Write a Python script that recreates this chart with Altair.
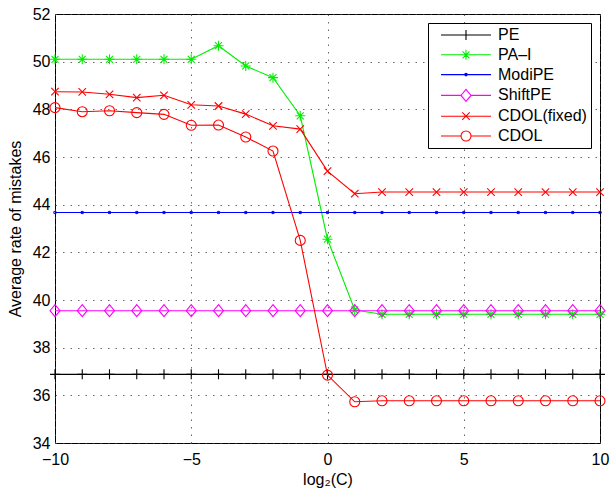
import altair as alt
import pandas as pd

x_vals = [-10, -9, -8, -7, -6, -5, -4, -3, -2, -1, 0, 1, 2, 3, 4, 5, 6, 7, 8, 9, 10]

series_names = ["PE", "PA–I", "ModiPE", "ShiftPE", "CDOL(fixed)", "CDOL"]

pe = [36.88, 36.88, 36.88, 36.88, 36.88, 36.88, 36.88, 36.88, 36.88, 36.88, 36.88,
      36.88, 36.88, 36.88, 36.88, 36.88, 36.88, 36.88, 36.88, 36.88, 36.88]
pa_i = [50.10, 50.10, 50.10, 50.10, 50.10, 50.10, 50.67, 49.82, 49.33, 47.73, 42.55,
        39.58, 39.40, 39.40, 39.40, 39.40, 39.40, 39.40, 39.40, 39.40, 39.40]
modipe = [43.67, 43.67, 43.67, 43.67, 43.67, 43.67, 43.67, 43.67, 43.67, 43.67, 43.67,
          43.67, 43.67, 43.67, 43.67, 43.67, 43.67, 43.67, 43.67, 43.67, 43.67]
shiftpe = [39.55, 39.55, 39.55, 39.55, 39.55, 39.55, 39.55, 39.55, 39.55, 39.55, 39.55,
           39.55, 39.55, 39.55, 39.55, 39.55, 39.55, 39.55, 39.55, 39.55, 39.55]
cdol_fixed = [48.74, 48.73, 48.63, 48.49, 48.59, 48.19, 48.14, 47.80, 47.31, 47.17, 45.41,
              44.46, 44.53, 44.53, 44.53, 44.53, 44.53, 44.53, 44.53, 44.53, 44.53]
cdol = [48.07, 47.90, 47.94, 47.86, 47.79, 47.33, 47.34, 46.84, 46.25, 42.50, 36.85,
        35.73, 35.77, 35.77, 35.77, 35.77, 35.77, 35.77, 35.77, 35.77, 35.77]

series_values = [pe, pa_i, modipe, shiftpe, cdol_fixed, cdol]
series_colors = ["#000000", "#00ee00", "#0000ff", "#ff00ff", "#ff0000", "#ff0000"]

# marker styles (plot)
marker_paths = [
    "M-1,0L1,0M0,-1L0,1",
    "M-1,0L1,0M0,-1L0,1M-0.7,-0.7L0.7,0.7M-0.7,0.7L0.7,-0.7",
    "circle",
    "M0,-1.2L1,0L0,1.2L-1,0Z",
    "M-0.75,-0.75L0.75,0.75M-0.75,0.75L0.75,-0.75",
    "circle",
]
marker_sizes = [100, 100, 6, 100, 100, 100]

# legend symbols: line segment plus marker (unit = 5px)
legend_paths = [
    "M-5,0L5,0M-1,0L1,0M0,-1L0,1",
    "M-5,0L5,0M-1,0L1,0M0,-1L0,1M-0.7,-0.7L0.7,0.7M-0.7,0.7L0.7,-0.7",
    "M-5,0L5,0M0.25,0A0.25,0.25 0 1,1 -0.25,0A0.25,0.25 0 1,1 0.25,0",
    "M-5,0L-1,0M1,0L5,0M0,-1.2L1,0L0,1.2L-1,0Z",
    "M-5,0L5,0M-0.75,-0.75L0.75,0.75M-0.75,0.75L0.75,-0.75",
    "M-5,0L-1,0M1,0L5,0M1,0A1,1 0 1,1 -1,0A1,1 0 1,1 1,0",
]

rows = []
for name, vals in zip(series_names, series_values):
    for xv, yv in zip(x_vals, vals):
        rows.append({"x": xv, "y": yv, "series": name})
df = pd.DataFrame(rows)

FONT = "Liberation Sans"

color_scale = alt.Scale(domain=series_names, range=series_colors)

X = alt.X("x:Q", scale=alt.Scale(domain=[-10, 10], nice=False),
          axis=alt.Axis(values=[-10, -5, 0, 5, 10], title="log₂(C)",
                        labelPadding=8, titlePadding=4, labelFlush=False,
                        labelOverlap=False))
Y = alt.Y("y:Q", scale=alt.Scale(domain=[34, 52], nice=False, zero=False),
          axis=alt.Axis(values=[34, 36, 38, 40, 42, 44, 46, 48, 50, 52],
                        title="Average rate of mistakes", labelPadding=5,
                        titlePadding=9, labelFlush=False, labelOverlap=False))

layers = []
for name, col, mk, sz in zip(series_names, series_colors, marker_paths, marker_sizes):
    sub = alt.Chart(df).transform_filter(alt.datum.series == name)
    layers.append(sub.mark_line(strokeWidth=1.1, color=col).encode(x=X, y=Y))
    layers.append(sub.mark_point(filled=False, strokeWidth=1.1, opacity=1, color=col,
                                 shape=mk, size=sz).encode(x=X, y=Y))

legend_props = dict(
    title=None, orient="none", legendX=373, legendY=9,
    labelFont=FONT, labelFontSize=16, labelColor="black",
    symbolSize=100, symbolStrokeWidth=1.1, symbolOpacity=1,
    symbolOffset=26, labelOffset=24, padding=4, rowPadding=3.8,
    strokeColor="black", fillColor="white", cornerRadius=0,
)

legend_layer = alt.Chart(df).mark_point(filled=False, opacity=0, size=100,
                                        strokeWidth=1.1).encode(
    x=X, y=Y,
    color=alt.Color("series:N", scale=color_scale, legend=alt.Legend(**legend_props)),
    shape=alt.Shape("series:N", scale=alt.Scale(domain=series_names, range=legend_paths),
                    legend=alt.Legend(**legend_props)),
)

chart = alt.layer(*layers, legend_layer).properties(
    width=545, height=429,
    padding={"left": 55, "top": 14, "right": 10, "bottom": 49},
    autosize=alt.AutoSizeParams(type="none"),
).configure_view(
    stroke="black", strokeWidth=1
).configure_axis(
    labelFont=FONT, labelFontSize=16, labelColor="black",
    titleFont=FONT, titleFontSize=16, titleFontWeight="normal", titleColor="black",
    domain=False, ticks=False,
    grid=True, gridColor="#444444", gridDash=[1.5, 6], gridOpacity=0.8, gridWidth=1,
).configure_legend(
    symbolLimit=0
)

chart.save("out.html", embed_options={"renderer": "svg", "actions": False})
